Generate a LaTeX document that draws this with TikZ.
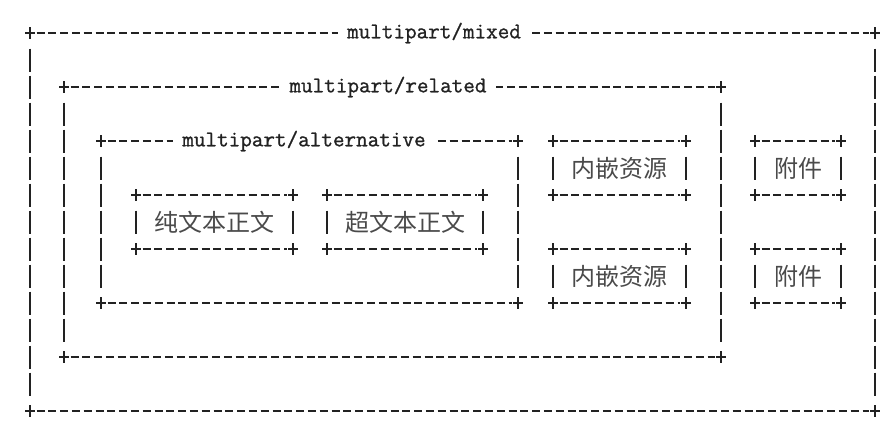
\documentclass[tikz,border=0pt]{standalone}
\usepackage{fontspec}
\newfontfamily\asciifont[FakeBold=1]{Latin Modern Mono}
\newfontfamily\cjkfont{Noto Sans CJK SC}
\definecolor{ink}{HTML}{222222}
\definecolor{cjkink}{HTML}{4A4A4A}
\tikzset{
  hdash/.style={draw=ink,line width=1.6pt,dash pattern=on 8pt off 3.8pt},
  vdash/.style={draw=ink,line width=1.6pt,dash pattern=on 23pt off 4pt},
  plusmark/.style={draw=ink,line width=1.5pt},
  boxlabel/.style={fill=white,inner xsep=9pt,inner ysep=2pt,text=ink,
    font=\asciifont\fontsize{22.5}{27}\selectfont},
  cjklabel/.style={inner sep=0pt,text=cjkink,font=\cjkfont\fontsize{24}{28}\selectfont}
}
\newcommand{\asciibox}[5]{%
  \coordinate (#1-nw) at (#2,#3);
  \coordinate (#1-ne) at (#4,#3);
  \coordinate (#1-sw) at (#2,#5);
  \coordinate (#1-se) at (#4,#5);
  \draw[hdash] ([xshift=6.5pt]#1-nw) -- ([xshift=-6.5pt]#1-ne);
  \draw[hdash] ([xshift=6.5pt]#1-sw) -- ([xshift=-6.5pt]#1-se);
  \draw[vdash] ([yshift=-15.5pt]#1-nw) -- ([yshift=15.5pt]#1-sw);
  \draw[vdash] ([yshift=-15.5pt]#1-ne) -- ([yshift=15.5pt]#1-se);
  \foreach \c in {nw,ne,sw,se}{
    \draw[plusmark] ([xshift=-5pt]#1-\c) -- ([xshift=5pt]#1-\c)
                    ([yshift=6pt]#1-\c) -- ([yshift=-6pt]#1-\c);
  }%
}
\begin{document}
\begin{tikzpicture}[x=1pt,y=-1pt]
\fill[white] (0,0) rectangle (891,424);
\useasboundingbox (0,0) rectangle (891,424);

% boxes
\asciibox{mixed}{30}{33}{875}{411}
\asciibox{related}{64}{87}{721}{357}
\asciibox{alt}{101}{141}{518}{303}
\asciibox{plain}{136}{195}{293}{249}
\asciibox{html}{327}{195}{483}{249}
\asciibox{resA}{553}{141}{686}{195}
\asciibox{resB}{553}{249}{686}{303}
\asciibox{attA}{755}{141}{841}{195}
\asciibox{attB}{755}{249}{841}{303}

% box labels
\node[boxlabel] (lmixed) at (434,33) {multipart/mixed};
\node[boxlabel] (lrelated) at (388,87) {multipart/related};
\node[boxlabel] (lalt) at (304,141) {multipart/alternative};

% contents
\node[cjklabel] (tplain) at (214.5,222) {纯文本正文};
\node[cjklabel] (thtml) at (405,222) {超文本正文};
\node[cjklabel] (tresA) at (619,168) {内嵌资源};
\node[cjklabel] (tresB) at (619,276) {内嵌资源};
\node[cjklabel] (tattA) at (798,168) {附件};
\node[cjklabel] (tattB) at (798,276) {附件};
\end{tikzpicture}
\end{document}
